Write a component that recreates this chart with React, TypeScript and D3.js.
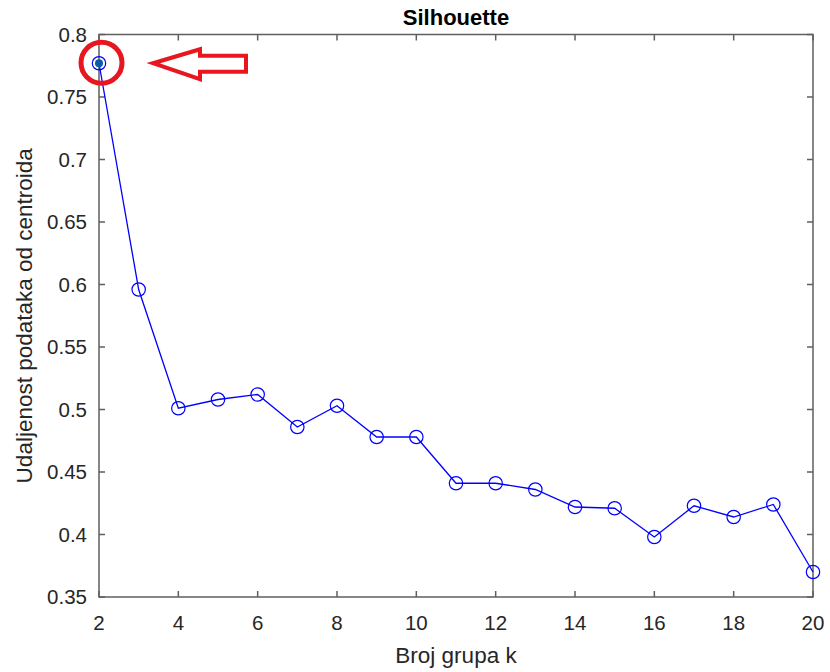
import React from "react";
import * as d3 from "d3";

const kValues = [2, 3, 4, 5, 6, 7, 8, 9, 10, 11, 12, 13, 14, 15, 16, 17, 18, 19, 20];
const silhouette = [0.777, 0.596, 0.501, 0.508, 0.512, 0.486, 0.503, 0.478, 0.478, 0.441, 0.441, 0.436, 0.422, 0.421, 0.398, 0.423, 0.414, 0.424, 0.370];
const xTicks = [2, 4, 6, 8, 10, 12, 14, 16, 18, 20];
const yTicks = [0.35, 0.4, 0.45, 0.5, 0.55, 0.6, 0.65, 0.7, 0.75, 0.8];
const titleText = "Silhouette";
const xLabel = "Broj grupa k";
const yLabel = "Udaljenost podataka od centroida";

const W = 830;
const H = 672;
const L = 99, R = 813, T = 34.5, B = 597;
const FONT = "'Liberation Sans', Arial, sans-serif";
const AX = "#5f5f5f";
const TXT = "#262626";

export default function App() {
  const x = d3.scaleLinear().domain([2, 20]).range([L, R]);
  const y = d3.scaleLinear().domain([0.35, 0.8]).range([B, T]);
  const line = d3.line<number>().x((_, i) => x(kValues[i])).y((d) => y(d));
  const tickLen = 6;

  const px = x(kValues[0]);
  const py = y(silhouette[0]);
  const arrowPath = [
    [px + 54, py],
    [px + 101, py - 14],
    [px + 101, py - 7.5],
    [px + 147, py - 7.5],
    [px + 147, py + 8.5],
    [px + 101, py + 8.5],
    [px + 101, py + 16],
  ];

  return (
    <svg width={W} height={H} style={{ position: "absolute", left: 0, top: 0, background: "#fff" }} xmlns="http://www.w3.org/2000/svg">
      <rect x={0} y={0} width={W} height={H} fill="#fff" />
      {/* ticks */}
      {xTicks.map((t) => (
        <g key={"xt" + t}>
          <line x1={x(t)} x2={x(t)} y1={B} y2={B - tickLen} stroke={AX} strokeWidth={1.5} />
          <line x1={x(t)} x2={x(t)} y1={T} y2={T + tickLen} stroke={AX} strokeWidth={1.5} />
          <text x={x(t)} y={630} textAnchor="middle" fontFamily={FONT} fontSize={20.5} fill={TXT}>{t}</text>
        </g>
      ))}
      {yTicks.map((t) => (
        <g key={"yt" + t}>
          <line x1={L} x2={L + tickLen} y1={y(t)} y2={y(t)} stroke={AX} strokeWidth={1.5} />
          <line x1={R} x2={R - tickLen} y1={y(t)} y2={y(t)} stroke={AX} strokeWidth={1.5} />
          <text x={87} y={y(t)} dy="0.36em" textAnchor="end" fontFamily={FONT} fontSize={20.5} fill={TXT}>{String(t)}</text>
        </g>
      ))}
      <rect x={L} y={T} width={R - L} height={B - T} fill="none" stroke={AX} strokeWidth={1.5} />
      {/* data */}
      <path d={line(silhouette) || ""} fill="none" stroke="#0000ff" strokeWidth={1.3} />
      {silhouette.map((v, i) => (
        <circle key={"m" + i} cx={x(kValues[i])} cy={y(v)} r={6.7} fill="none" stroke="#0000ff" strokeWidth={1.2} />
      ))}
      <circle cx={px} cy={py} r={4} fill="#0a5ca8" />
      {/* annotation */}
      <circle cx={px + 2.5} cy={py - 0.5} r={20.5} fill="none" stroke="#e8161f" strokeWidth={5} />
      <polygon points={arrowPath.map((p) => p.join(",")).join(" ")} fill="none" stroke="#e8161f" strokeWidth={4} strokeLinejoin="miter" />
      {/* labels */}
      <text x={(L + R) / 2} y={25} textAnchor="middle" fontFamily={FONT} fontSize={22} fontWeight="bold" fill="#000">{titleText}</text>
      <text x={(L + R) / 2} y={663} textAnchor="middle" fontFamily={FONT} fontSize={22.5} fill={TXT}>{xLabel}</text>
      <text transform={`translate(32,${(T + B) / 2}) rotate(-90)`} textAnchor="middle" fontFamily={FONT} fontSize={22.5} fill={TXT}>{yLabel}</text>
    </svg>
  );
}
